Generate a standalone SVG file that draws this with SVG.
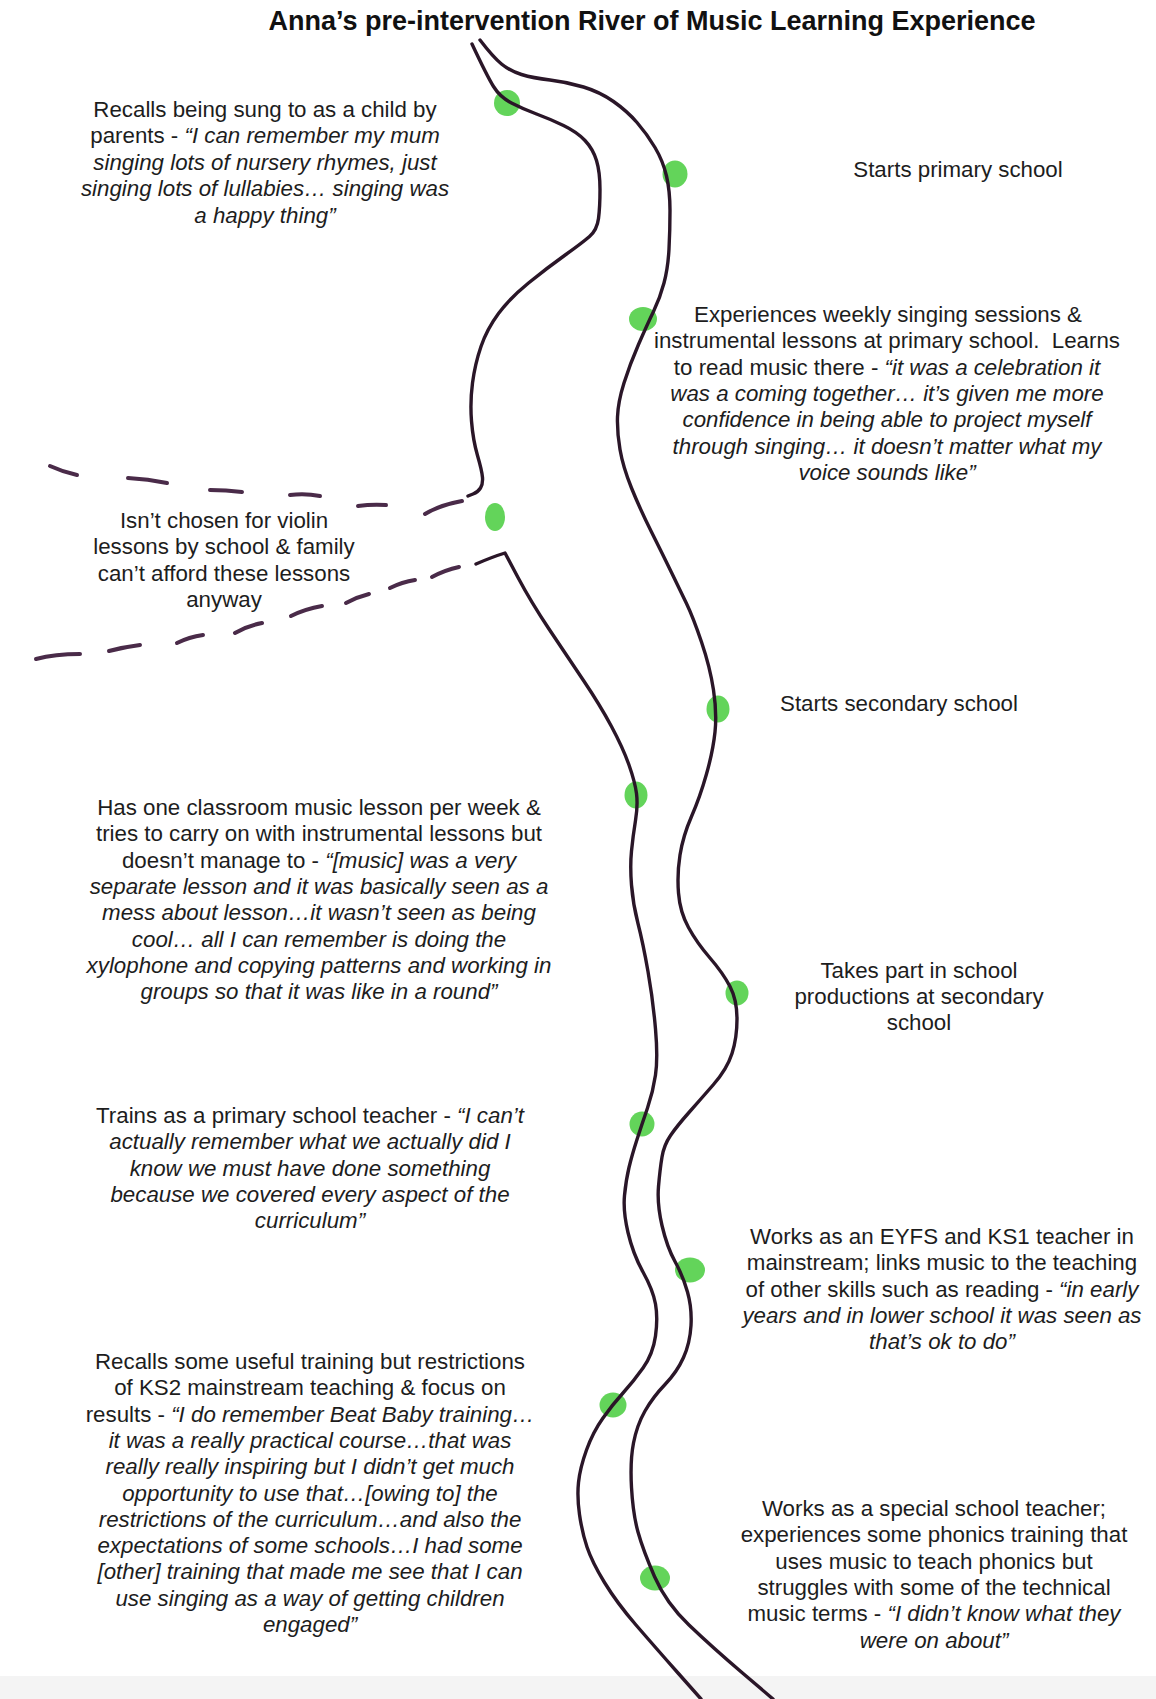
<svg xmlns="http://www.w3.org/2000/svg" width="1156" height="1699" viewBox="0 0 1156 1699">
  <style>
    .t { font-family: "Liberation Sans", Arial, sans-serif; font-size: 22.3px; fill: #1d1d1d; text-anchor: middle; }
    .i { font-style: italic; }
    .title { font-family: "Liberation Sans", Arial, sans-serif; font-weight: bold; font-size: 27px; fill: #111; text-anchor: middle; }
    .bank { fill: none; stroke: #2a1628; stroke-width: 3.4; stroke-linecap: round; stroke-linejoin: round; }
    .dash { fill: none; stroke: #4a2b49; stroke-width: 4; stroke-linecap: round; }
    .dot { fill: #63d45a; }
  </style>

  <rect x="0" y="0" width="1156" height="1699" fill="#ffffff"/>
  <rect x="0" y="1676" width="1156" height="23" fill="#f4f4f4"/>

  <text class="title" x="652" y="30">Anna’s pre-intervention River of Music Learning Experience</text>

  <!-- events along the river: marker dot + description -->
  <g id="childhood">
    <ellipse class="dot" cx="507" cy="103" rx="13" ry="13"/>
    <text class="t" x="265" y="116.5">Recalls being sung to as a child by</text>
    <text class="t" x="265" y="143">parents - <tspan class="i">“I can remember my mum</tspan></text>
    <text class="t i" x="265" y="169.5">singing lots of nursery rhymes, just</text>
    <text class="t i" x="265" y="196">singing lots of lullabies… singing was</text>
    <text class="t i" x="265" y="222.5">a happy thing”</text>
  </g>

  <g id="primary-start">
    <ellipse class="dot" cx="675" cy="174" rx="12.5" ry="13.5"/>
    <text class="t" x="958" y="177">Starts primary school</text>
  </g>

  <g id="primary-singing">
    <ellipse class="dot" cx="643" cy="319" rx="14" ry="12"/>
    <text class="t" x="888" y="322">Experiences weekly singing sessions &amp;</text>
    <text class="t" x="887" y="348.3">instrumental lessons at primary school.&#160; Learns</text>
    <text class="t" x="887" y="374.6">to read music there - <tspan class="i">“it was a celebration it</tspan></text>
    <text class="t i" x="887" y="400.9">was a coming together… it’s given me more</text>
    <text class="t i" x="887" y="427.2">confidence in being able to project myself</text>
    <text class="t i" x="887" y="453.5">through singing… it doesn’t matter what my</text>
    <text class="t i" x="887" y="479.8">voice sounds like”</text>
  </g>

  <g id="violin">
    <ellipse class="dot" cx="495" cy="517" rx="10" ry="14"/>
    <text class="t" x="224" y="528">Isn’t chosen for violin</text>
    <text class="t" x="224" y="554.3">lessons by school &amp; family</text>
    <text class="t" x="224" y="580.6">can’t afford these lessons</text>
    <text class="t" x="224" y="606.9">anyway</text>
  </g>

  <g id="secondary-start">
    <ellipse class="dot" cx="718" cy="709" rx="11.5" ry="13.5"/>
    <text class="t" x="899" y="711">Starts secondary school</text>
  </g>

  <g id="classroom-music">
    <ellipse class="dot" cx="636" cy="795" rx="11.5" ry="13.5"/>
    <text class="t" x="319" y="815">Has one classroom music lesson per week &amp;</text>
    <text class="t" x="319" y="841.3">tries to carry on with instrumental lessons but</text>
    <text class="t" x="319" y="867.6">doesn’t manage to - <tspan class="i">“[music] was a very</tspan></text>
    <text class="t i" x="319" y="893.9">separate lesson and it was basically seen as a</text>
    <text class="t i" x="319" y="920.2">mess about lesson…it wasn’t seen as being</text>
    <text class="t i" x="319" y="946.5">cool… all I can remember is doing the</text>
    <text class="t i" x="319" y="972.8">xylophone and copying patterns and working in</text>
    <text class="t i" x="319" y="999.1">groups so that it was like in a round”</text>
  </g>

  <g id="productions">
    <ellipse class="dot" cx="737" cy="993" rx="11.5" ry="12.5"/>
    <text class="t" x="919" y="977.7">Takes part in school</text>
    <text class="t" x="919" y="1004">productions at secondary</text>
    <text class="t" x="919" y="1030.3">school</text>
  </g>

  <g id="teacher-training">
    <ellipse class="dot" cx="642" cy="1124" rx="12.5" ry="12.5"/>
    <text class="t" x="310" y="1123">Trains as a primary school teacher - <tspan class="i">“I can’t</tspan></text>
    <text class="t i" x="310" y="1149.3">actually remember what we actually did I</text>
    <text class="t i" x="310" y="1175.6">know we must have done something</text>
    <text class="t i" x="310" y="1201.9">because we covered every aspect of the</text>
    <text class="t i" x="310" y="1228.2">curriculum”</text>
  </g>

  <g id="eyfs-ks1">
    <ellipse class="dot" cx="690" cy="1270" rx="15" ry="12.5"/>
    <text class="t" x="942" y="1244">Works as an EYFS and KS1 teacher in</text>
    <text class="t" x="942" y="1270.3">mainstream; links music to the teaching</text>
    <text class="t" x="942" y="1296.6">of other skills such as reading - <tspan class="i">“in early</tspan></text>
    <text class="t i" x="942" y="1322.9">years and in lower school it was seen as</text>
    <text class="t i" x="942" y="1349.2">that’s ok to do”</text>
  </g>

  <g id="ks2">
    <ellipse class="dot" cx="613" cy="1405" rx="13.5" ry="12.5"/>
    <text class="t" x="310" y="1369">Recalls some useful training but restrictions</text>
    <text class="t" x="310" y="1395.3">of KS2 mainstream teaching &amp; focus on</text>
    <text class="t" x="310" y="1421.6">results - <tspan class="i">“I do remember Beat Baby training…</tspan></text>
    <text class="t i" x="310" y="1447.9">it was a really practical course…that was</text>
    <text class="t i" x="310" y="1474.2">really really inspiring but I didn’t get much</text>
    <text class="t i" x="310" y="1500.5">opportunity to use that…[owing to] the</text>
    <text class="t i" x="310" y="1526.8">restrictions of the curriculum…and also the</text>
    <text class="t i" x="310" y="1553.1">expectations of some schools…I had some</text>
    <text class="t i" x="310" y="1579.4">[other] training that made me see that I can</text>
    <text class="t i" x="310" y="1605.7">use singing as a way of getting children</text>
    <text class="t i" x="310" y="1632">engaged”</text>
  </g>

  <g id="special-school">
    <ellipse class="dot" cx="655" cy="1578" rx="15" ry="12.5"/>
    <text class="t" x="934" y="1516">Works as a special school teacher;</text>
    <text class="t" x="934" y="1542.3">experiences some phonics training that</text>
    <text class="t" x="934" y="1568.6">uses music to teach phonics but</text>
    <text class="t" x="934" y="1594.9">struggles with some of the technical</text>
    <text class="t" x="934" y="1621.2">music terms - <tspan class="i">“I didn’t know what they</tspan></text>
    <text class="t i" x="934" y="1647.5">were on about”</text>
  </g>

  <!-- river banks and the dashed side branch -->
  <g id="connectors">
    <path class="bank" d="M472,44 Q487,76 493.5,86.5 Q500,97 511.5,103 Q523,109 536.5,114 Q550,119 563.5,125.5 Q577,132 585,140.5 Q593,149 596.5,160.5 Q600,172 600,189.5 Q600,207 598.5,218.5 Q597,230 589.5,236.5 Q582,243 564.5,255.5 Q547,268 528.5,283 Q510,298 498.5,313.5 Q487,329 481,346.5 Q475,364 472.5,383 Q470,402 471.5,421 Q473,440 477.5,455.5 Q482,471 482.5,477.5 Q483,484 480.5,488 Q478,492 473,494 L468,496"/>
    <path class="bank" d="M480,40 Q493,57 501.5,64 Q510,71 521.5,74.5 Q533,78 550,80 Q567,82 583.5,87 Q600,92 613.5,101.5 Q627,111 637,122.5 Q647,134 655,147.5 Q663,161 666.5,176 Q670,191 670,210.5 Q670,230 669,249 Q668,268 664,283 Q660,298 653.5,311.5 Q647,325 638.5,344.5 Q630,364 624,383 Q618,402 617.5,417 Q617,432 620,449.5 Q623,467 631.5,488 Q640,509 651.5,532 Q663,555 671.5,572.5 Q680,590 686.5,603.5 Q693,617 701.5,642 Q710,667 713.5,690 Q717,713 715,732 Q713,751 706.5,774 Q700,797 691.5,816.5 Q683,836 680,855 Q677,874 678.5,893 Q680,912 688.5,927.5 Q697,943 710,958 Q723,973 730,986.5 Q737,1000 737,1019 Q737,1038 732,1053.5 Q727,1069 713.5,1084.5 Q700,1100 688.5,1113 Q677,1126 670.5,1135.5 Q664,1145 662,1157 Q660,1169 658.5,1186.5 Q657,1204 662,1225.5 Q667,1247 675,1261.5 Q683,1276 687.5,1292 Q692,1308 691,1325.5 Q690,1343 683.5,1357.5 Q677,1372 665,1384.5 Q653,1397 645,1411 Q637,1425 633.5,1443 Q630,1461 631.5,1487.5 Q633,1514 638,1532 Q643,1550 654.5,1576.5 Q666,1603 689,1625 Q712,1647 742.5,1673 L773,1699"/>
    <path class="bank" d="M476,564 Q492,557 505,553 L518,577.5 Q531,602 549,629 Q567,656 583.5,680.5 Q600,705 611.5,726.5 Q623,748 629,765 Q635,782 636.5,793.5 Q638,805 635.5,820.5 Q633,836 631.5,851 Q630,866 631.5,885 Q633,904 638,923.5 Q643,943 648,971.5 Q653,1000 655.5,1029 Q658,1058 655.5,1075 Q653,1092 647.5,1108 Q642,1124 637,1139.5 Q632,1155 629,1167.5 Q626,1180 624.5,1195.5 Q623,1211 628,1232.5 Q633,1254 643,1272 Q653,1290 655.5,1304 Q658,1318 655.5,1336 Q653,1354 643,1368 Q633,1382 623,1393 Q613,1404 603,1418 Q593,1432 586.5,1450 Q580,1468 578.5,1482.5 Q577,1497 579.5,1514.5 Q582,1532 587,1547 Q592,1562 604.5,1582.5 Q617,1603 636,1625 Q655,1647 678,1673 L701,1699"/>

    <path class="dash" d="M50,466 Q63,472 77,475"/>
    <path class="dash" d="M128,478 Q148,479 167,483"/>
    <path class="dash" d="M210,490 Q226,490 242,492"/>
    <path class="dash" d="M290,495 Q305,493 320,496"/>
    <path class="dash" d="M358,506 Q372,504 386,505"/>
    <path class="dash" d="M425,514 Q440,505 462,501"/>

    <path class="dash" d="M36,659 Q55,654 80,654"/>
    <path class="dash" d="M109,651 Q124,647 140,645"/>
    <path class="dash" d="M177,643 Q189,637 203,635"/>
    <path class="dash" d="M235,633 Q247,626 262,623"/>
    <path class="dash" d="M291,616 Q305,609 322,606"/>
    <path class="dash" d="M346,603 Q357,597 369,594"/>
    <path class="dash" d="M390,588 Q402,582 415,580"/>
    <path class="dash" d="M432,577 Q445,570 459,567"/>
  </g>
</svg>
